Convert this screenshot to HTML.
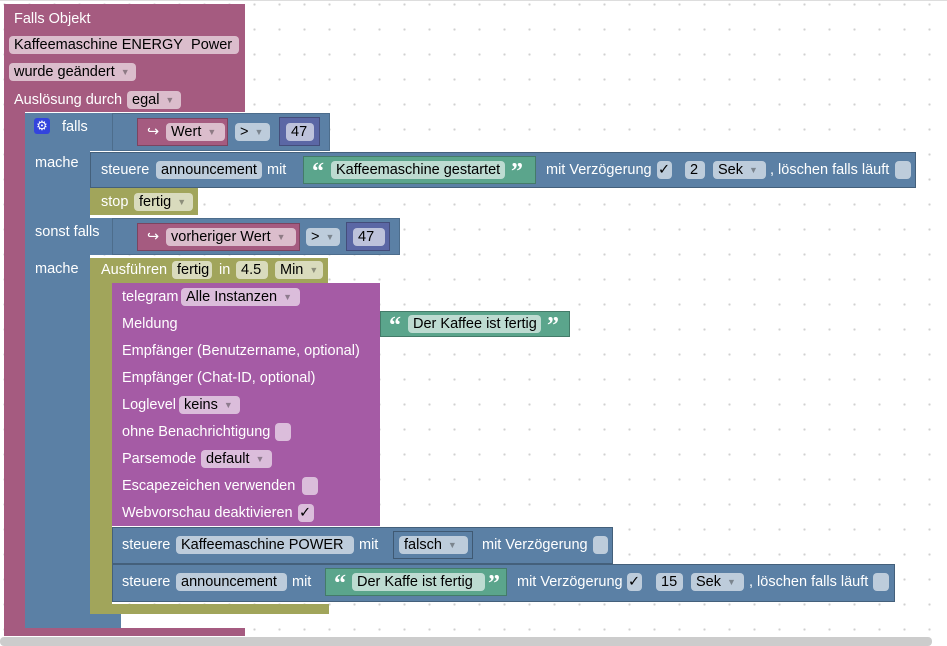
<!DOCTYPE html>
<html><head><meta charset="utf-8">
<style>
html,body{margin:0;padding:0}
body{width:947px;height:646px;overflow:hidden;position:relative;background:#fff;
background-image:radial-gradient(circle,#d0d0d0 1px,transparent 1.3px);background-size:25px 25px;background-position:-8px -8px;
font-family:"Liberation Sans",sans-serif;font-size:14.5px}
.b{position:absolute}
.pk{background:#a55b80}.bl{background:#5b80a5}.ol{background:#a1a55b}.pu{background:#a55ba5}.gr{background:#5ba58c}.nb{background:#5b67a5}
.t{position:absolute;color:#fff;line-height:18px;white-space:nowrap}
.p{position:absolute;height:18px;line-height:18px;border-radius:4px;background:rgba(255,255,255,0.6);color:#000;white-space:nowrap;padding:0 5px;box-sizing:border-box}
.a{color:rgba(0,0,0,0.35);font-size:9px;margin-left:6px;vertical-align:1px}
.q{position:absolute;color:#fff;font-weight:bold;font-size:24px;line-height:24px;font-family:"Liberation Serif",serif}
.bd{border:1px solid rgba(0,0,0,0.25);box-sizing:border-box}
</style></head><body>
<div class="b" style="left:0;top:0;width:947px;height:1px;background:#ddd"></div>
<div class="b pk" style="left:4px;top:4px;width:241px;height:108px"></div>
<div class="b pk" style="left:4px;top:112px;width:21px;height:524px"></div>
<div class="b pk" style="left:4px;top:628px;width:241px;height:8px"></div>
<div class="t" style="left:14px;top:10px">Falls Objekt</div>
<div class="p" style="left:9px;top:36px;width:230px">Kaffeemaschine ENERGY&nbsp; Power</div>
<div class="p" style="left:9px;top:63px;width:127px">wurde geändert<span class="a">▼</span></div>
<div class="t" style="left:14px;top:91px">Auslösung durch</div>
<div class="p" style="left:127px;top:91px;width:54px">egal<span class="a">▼</span></div>

<div class="b bl" style="left:25px;top:113px;width:305px;height:38px"></div>
<div class="b bl" style="left:25px;top:113px;width:65px;height:515px"></div>
<div class="b bl" style="left:25px;top:218px;width:375px;height:37px"></div>
<div class="b bl" style="left:25px;top:614px;width:96px;height:14px"></div>
<div class="b bd" style="left:112px;top:113px;width:218px;height:38px;border-color:rgba(0,0,0,0.15)"></div>
<div class="b bd" style="left:112px;top:218px;width:288px;height:37px;border-color:rgba(0,0,0,0.15)"></div>
<div class="b" style="left:34px;top:118px;width:16px;height:16px;background:#3344dd;border-radius:3px;color:#fff;font-size:13px;line-height:16px;text-align:center">⚙</div>
<div class="t" style="left:62px;top:118px">falls</div>
<div class="t" style="left:35px;top:154px">mache</div>
<div class="t" style="left:35px;top:223px">sonst falls</div>
<div class="t" style="left:35px;top:260px">mache</div>

<div class="b pk bd" style="left:137px;top:118px;width:91px;height:28px"></div>
<div class="t" style="left:147px;top:123px">↪</div>
<div class="p" style="left:166px;top:123px;width:59px">Wert<span class="a">▼</span></div>
<div class="p" style="left:235px;top:123px;width:35px">&gt;<span class="a">▼</span></div>
<div class="b nb bd" style="left:279px;top:117px;width:41px;height:29px"></div>
<div class="p" style="left:286px;top:123px;width:28px">47</div>

<div class="b bl bd" style="left:90px;top:152px;width:826px;height:36px"></div>
<div class="t" style="left:101px;top:161px">steuere</div>
<div class="p" style="left:156px;top:161px;width:106px">announcement</div>
<div class="t" style="left:267px;top:161px">mit</div>
<div class="b gr bd" style="left:303px;top:156px;width:233px;height:28px"></div>
<div class="q" style="left:312px;top:160px">“</div>
<div class="p" style="left:331px;top:161px;width:174px">Kaffeemaschine gestartet</div>
<div class="q" style="left:511px;top:160px">”</div>
<div class="t" style="left:546px;top:161px">mit Verzögerung</div>
<div class="p" style="left:657px;top:161px;width:15px;padding:0 1px">✓</div>
<div class="p" style="left:685px;top:161px;width:20px">2</div>
<div class="p" style="left:713px;top:161px;width:53px">Sek<span class="a">▼</span></div>
<div class="t" style="left:770px;top:161px">, löschen falls läuft</div>
<div class="p" style="left:895px;top:161px;width:16px"></div>

<div class="b ol" style="left:90px;top:188px;width:108px;height:27px"></div>
<div class="t" style="left:101px;top:193px">stop</div>
<div class="p" style="left:134px;top:193px;width:59px">fertig<span class="a">▼</span></div>

<div class="b pk bd" style="left:137px;top:223px;width:163px;height:28px"></div>
<div class="t" style="left:147px;top:228px">↪</div>
<div class="p" style="left:166px;top:228px;width:130px">vorheriger Wert<span class="a">▼</span></div>
<div class="p" style="left:306px;top:228px;width:34px">&gt;<span class="a">▼</span></div>
<div class="b nb bd" style="left:346px;top:222px;width:44px;height:29px"></div>
<div class="p" style="left:353px;top:228px;width:32px">47</div>

<div class="b ol" style="left:90px;top:258px;width:238px;height:25px"></div>
<div class="b ol" style="left:90px;top:258px;width:22px;height:356px"></div>
<div class="b ol" style="left:90px;top:604px;width:239px;height:10px"></div>
<div class="t" style="left:101px;top:261px">Ausführen</div>
<div class="p" style="left:172px;top:261px;width:40px">fertig</div>
<div class="t" style="left:219px;top:261px">in</div>
<div class="p" style="left:236px;top:261px;width:32px">4.5</div>
<div class="p" style="left:275px;top:261px;width:48px">Min<span class="a">▼</span></div>

<div class="b pu" style="left:112px;top:283px;width:268px;height:243px"></div>
<div class="t" style="left:122px;top:288px">telegram</div>
<div class="p" style="left:181px;top:288px;width:119px">Alle Instanzen<span class="a">▼</span></div>
<div class="t" style="left:122px;top:315px">Meldung</div>
<div class="t" style="left:122px;top:342px">Empfänger (Benutzername, optional)</div>
<div class="t" style="left:122px;top:369px">Empfänger (Chat-ID, optional)</div>
<div class="t" style="left:122px;top:396px">Loglevel</div>
<div class="p" style="left:179px;top:396px;width:61px">keins<span class="a">▼</span></div>
<div class="t" style="left:122px;top:423px">ohne Benachrichtigung</div>
<div class="p" style="left:275px;top:423px;width:16px"></div>
<div class="t" style="left:122px;top:450px">Parsemode</div>
<div class="p" style="left:201px;top:450px;width:71px">default<span class="a">▼</span></div>
<div class="t" style="left:122px;top:477px">Escapezeichen verwenden</div>
<div class="p" style="left:302px;top:477px;width:16px"></div>
<div class="t" style="left:122px;top:504px">Webvorschau deaktivieren</div>
<div class="p" style="left:298px;top:504px;width:16px;padding:0 1px">✓</div>
<div class="b gr bd" style="left:380px;top:311px;width:190px;height:26px"></div>
<div class="q" style="left:389px;top:314px">“</div>
<div class="p" style="left:408px;top:315px;width:133px">Der Kaffee ist fertig</div>
<div class="q" style="left:547px;top:314px">”</div>

<div class="b bl bd" style="left:112px;top:527px;width:501px;height:37px"></div>
<div class="t" style="left:122px;top:536px">steuere</div>
<div class="p" style="left:176px;top:536px;width:178px">Kaffeemaschine POWER</div>
<div class="t" style="left:359px;top:536px">mit</div>
<div class="b bl bd" style="left:393px;top:531px;width:80px;height:28px;border-color:rgba(0,0,0,0.3)"></div>
<div class="p" style="left:399px;top:536px;width:69px">falsch<span class="a">▼</span></div>
<div class="t" style="left:482px;top:536px">mit Verzögerung</div>
<div class="p" style="left:593px;top:536px;width:15px"></div>

<div class="b bl bd" style="left:112px;top:564px;width:783px;height:38px"></div>
<div class="t" style="left:122px;top:573px">steuere</div>
<div class="p" style="left:176px;top:573px;width:111px">announcement</div>
<div class="t" style="left:292px;top:573px">mit</div>
<div class="b gr bd" style="left:325px;top:568px;width:182px;height:28px"></div>
<div class="q" style="left:334px;top:572px">“</div>
<div class="p" style="left:352px;top:573px;width:133px">Der Kaffe ist fertig</div>
<div class="q" style="left:488px;top:572px">”</div>
<div class="t" style="left:517px;top:573px">mit Verzögerung</div>
<div class="p" style="left:627px;top:573px;width:15px;padding:0 1px">✓</div>
<div class="p" style="left:656px;top:573px;width:27px">15</div>
<div class="p" style="left:691px;top:573px;width:53px">Sek<span class="a">▼</span></div>
<div class="t" style="left:749px;top:573px">, löschen falls läuft</div>
<div class="p" style="left:873px;top:573px;width:16px"></div>

<div class="b" style="left:0;top:637px;width:932px;height:9px;background:#cccccc;border-radius:4px"></div>
</body></html>
